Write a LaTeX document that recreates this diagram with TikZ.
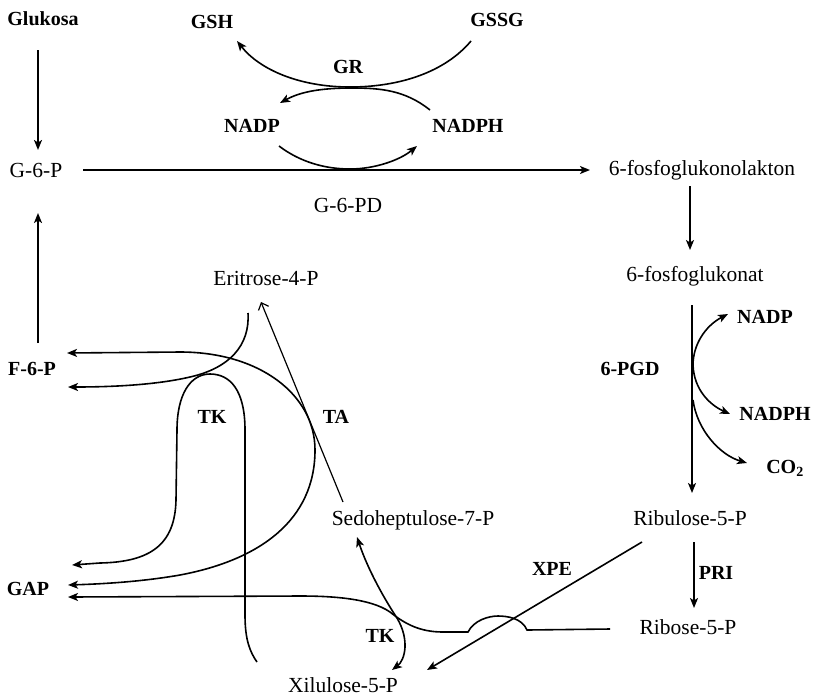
\documentclass[tikz,border=0pt]{standalone}
\usepackage{fontspec}
\setmainfont{Liberation Serif}
\usetikzlibrary{arrows.meta}
\begin{document}
\begin{tikzpicture}[x=1pt,y=-1pt,
  lab/.style={font=\fontsize{20}{24}\selectfont\bfseries,inner sep=0pt,anchor=base},
  nam/.style={font=\fontsize{21.5}{24}\selectfont,inner sep=0pt,anchor=base},
  con/.style={line width=1.6pt},
  arr/.style={con,-{Stealth[length=10pt,width=8pt,inset=2.5pt]}},
  barr/.style={con,{Stealth[length=10pt,width=8pt,inset=2.5pt]}-{Stealth[length=10pt,width=8pt,inset=2.5pt]}},
  openarr/.style={line width=1.2pt,-{Straight Barb[length=6pt,width=11pt]}}]
\useasboundingbox (0,0) rectangle (818,697);
% labels
\node[lab] (glu) at (43,25) {Glukosa};
\node[lab] (gsh) at (212,28) {GSH};
\node[lab] (gssg) at (497,26) {GSSG};
\node[lab] (gr) at (348,73) {GR};
\node[lab] (nadp1) at (252,132) {NADP};
\node[lab] (nadph1) at (468,132) {NADPH};
\node[nam] (g6p) at (36,177) {G-6-P};
\node[nam] (g6pd) at (348,212) {G-6-PD};
\node[nam] (lak) at (702,175) {6-fosfoglukonolakton};
\node[nam] (pgn) at (695,281) {6-fosfoglukonat};
\node[nam] (eri) at (266,285) {Eritrose-4-P};
\node[lab] (f6p) at (32,375) {F-6-P};
\node[lab] (tk1) at (212,423) {TK};
\node[lab] (ta) at (336,423) {TA};
\node[lab] (pgd) at (630,375) {6-PGD};
\node[lab] (nadp2) at (765,323) {NADP};
\node[lab] (nadph2) at (775,420) {NADPH};
\node[lab] (co2) at (785,473) {CO\textsubscript{2}};
\node[nam] (sed) at (413,525) {Sedoheptulose-7-P};
\node[nam] (rbl) at (690,525) {Ribulose-5-P};
\node[lab] (xpe) at (552,575) {XPE};
\node[lab] (pri) at (716,579) {PRI};
\node[lab] (gap) at (28,595) {GAP};
\node[nam] (rib) at (688,634) {Ribose-5-P};
\node[lab] (tk2) at (380,642) {TK};
\node[nam] (xil) at (343,692) {Xilulose-5-P};
% connector end points
\coordinate (gluS) at (38,50);   \coordinate (g6pN) at (38,150);
\coordinate (f6pN) at (38,343);  \coordinate (g6pS) at (38,213);
\coordinate (g6pE) at (83,170);  \coordinate (lakW) at (590,170);
\coordinate (gssgS) at (471,41); \coordinate (gshS) at (237,41);
\coordinate (nadphW) at (430,110); \coordinate (nadpE) at (280,103);
\coordinate (nadpS) at (279,146); \coordinate (nadphS) at (417,146);
\coordinate (lakS) at (690,186); \coordinate (pgnN) at (690,250);
\coordinate (pgnS) at (692,305); \coordinate (rblN) at (692,493);
\coordinate (nadp2W) at (728,314); \coordinate (nadph2W) at (730,414);
\coordinate (co2a) at (693,400); \coordinate (co2W) at (747,463);
\coordinate (rblS) at (694,542); \coordinate (ribN) at (694,608);
\coordinate (rblW) at (642,542); \coordinate (xilE) at (427,670);
\coordinate (ribW) at (610,629); \coordinate (gap3) at (68,597);
\coordinate (sedS) at (357,537); \coordinate (xilN) at (392,670);
\coordinate (xilA) at (257,662); \coordinate (gap1) at (72,565);
\coordinate (eriS) at (248,313); \coordinate (f6p2) at (68,387);
\coordinate (f6p1) at (67,353);  \coordinate (gap2) at (68,585);
\coordinate (sedN) at (343,502); \coordinate (eriA) at (261,302);
% straight arrows
\draw[arr] (gluS) -- (g6pN);
\draw[arr] (f6pN) -- (g6pS);
\draw[arr] (g6pE) -- (lakW);
\draw[arr] (lakS) -- (pgnN);
\draw[arr] (pgnS) -- (rblN);
\draw[arr] (rblS) -- (ribN);
\draw[arr] (rblW) -- (xilE);
% glutathione cycle
\draw[arr] (gssgS) .. controls (445,72) and (400,87) .. (350,87) .. controls (300,87) and (260,70) .. (gshS);
\draw[arr] (nadphW) .. controls (405,90) and (380,88) .. (352,88) .. controls (320,88) and (300,92) .. (nadpE);
\draw[arr] (nadpS) .. controls (300,162) and (325,169) .. (350,169) .. controls (375,169) and (400,160) .. (nadphS);
% 6-PGD
\draw[barr] (nadp2W) .. controls (705,326) and (693,345) .. (693,365) .. controls (694,390) and (710,405) .. (nadph2W);
\draw[arr] (co2a) .. controls (697,430) and (720,455) .. (co2W);
% TK lower / ribose
\draw[arr] (ribW) -- (527,630) .. controls (522,618) and (507,616) .. (498,616) .. controls (489,616) and (474,620) .. (468,632) -- (443,632) .. controls (420,632) and (405,624) .. (390,612) .. controls (370,598) and (330,596) .. (300,596) -- (gap3);
\draw[barr] (sedS) .. controls (368,570) and (385,600) .. (397,618) .. controls (410,640) and (405,660) .. (xilN);
% TK upper
\draw[arr] (xilA) .. controls (250,652) and (245,640) .. (245,615) -- (245,430) .. controls (245,390) and (230,374) .. (210,374) .. controls (190,374) and (177,395) .. (177,430) -- (176,500) .. controls (175,545) and (150,562) .. (100,563) -- (gap1);
\draw[arr] (eriS) .. controls (250,345) and (230,368) .. (190,377) .. controls (160,384) and (120,387) .. (f6p2);
% TA
\draw[barr] (f6p1) -- (180,352) .. controls (260,352) and (315,395) .. (315,450) .. controls (315,520) and (260,560) .. (180,575) .. controls (140,582) and (100,584) .. (gap2);
\draw[openarr] (sedN) -- (eriA);
\end{tikzpicture}
\end{document}
